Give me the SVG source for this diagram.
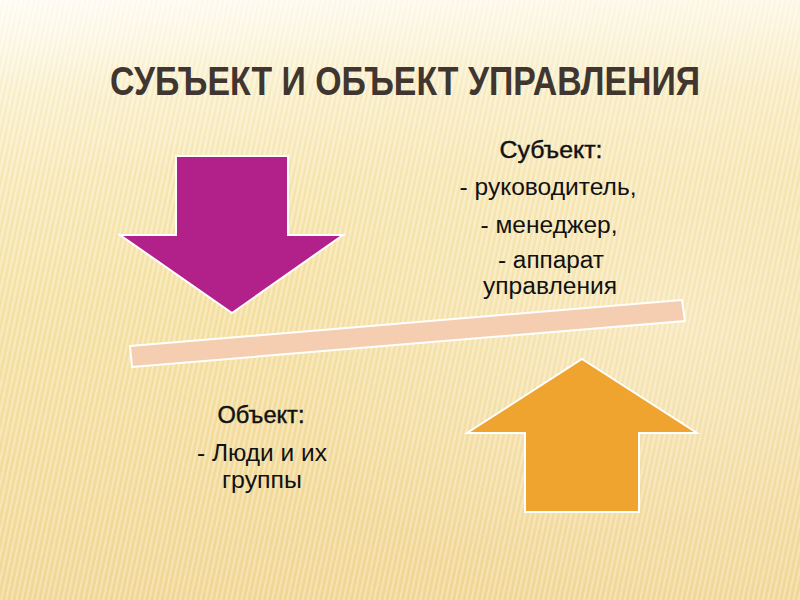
<svg xmlns="http://www.w3.org/2000/svg" width="800" height="600" viewBox="0 0 800 600">
  <defs>
    <linearGradient id="bg" x1="0" y1="0" x2="0.2" y2="1">
      <stop offset="0" stop-color="#FDF8E6"/>
      <stop offset="0.15" stop-color="#FAEFC8"/>
      <stop offset="0.5" stop-color="#F6E3A8"/>
      <stop offset="1" stop-color="#F2D898"/>
    </linearGradient>
    <radialGradient id="glow" cx="0.85" cy="0.55" r="0.5">
      <stop offset="0" stop-color="#FFFFFF" stop-opacity="0.3"/>
      <stop offset="1" stop-color="#FFFFFF" stop-opacity="0"/>
    </radialGradient>
    <linearGradient id="topfade" x1="0" y1="0" x2="0" y2="1">
      <stop offset="0" stop-color="#FFFFFF" stop-opacity="0.6"/>
      <stop offset="0.15" stop-color="#FFFFFF" stop-opacity="0.15"/>
      <stop offset="0.3" stop-color="#FFFFFF" stop-opacity="0"/>
    </linearGradient>
    <pattern id="stripes" width="5" height="600" patternUnits="userSpaceOnUse" patternTransform="rotate(12)">
      <rect x="0" y="0" width="1.5" height="600" fill="#FFFFFF" opacity="0.35"/>
      <rect x="3" y="0" width="1" height="600" fill="#E8C878" opacity="0.2"/>
    </pattern>
    <linearGradient id="rule" x1="0" y1="0" x2="1" y2="0">
      <stop offset="0" stop-color="#F0A640" stop-opacity="0"/>
      <stop offset="0.2" stop-color="#F0A640" stop-opacity="0.9"/>
      <stop offset="1" stop-color="#F0A640" stop-opacity="1"/>
    </linearGradient>
    <style>
      .title { font-family: "Liberation Sans", Arial, sans-serif; font-weight: bold; font-size: 40px; fill: #40362F; }
      .lbl { font-family: "Liberation Sans", Arial, sans-serif; font-size: 23px; fill: #111111; text-anchor: middle; }
      .hdr { stroke: #111111; stroke-width: 0.4; }
      .arrow { stroke: #FFFFFF; stroke-width: 2; stroke-linejoin: miter; }
    </style>
  </defs>

  <!-- background -->
  <rect x="0" y="0" width="800" height="600" fill="url(#bg)"/>
  <rect x="0" y="0" width="800" height="600" fill="url(#stripes)"/>
  <rect x="0" y="0" width="800" height="600" fill="url(#glow)"/>
  <rect x="0" y="0" width="800" height="600" fill="url(#topfade)"/>

  <!-- title -->
  <g id="title">
    <line x1="40" y1="94" x2="800" y2="94" stroke="url(#rule)" stroke-width="1.5"/>
    <g transform="translate(110,95) scale(0.815,1)">
      <text class="title" x="0" y="0" textLength="724" lengthAdjust="spacingAndGlyphs">СУБЪЕКТ И ОБЪЕКТ УПРАВЛЕНИЯ</text>
    </g>
  </g>

  <!-- lever bar -->
  <g id="bar">
    <polygon points="130,346 682,300 685,321 132,367" fill="#F5CDB0" stroke="#FFFFFF" stroke-width="2"/>
  </g>

  <!-- subject arrow (down) -->
  <g id="subject-arrow">
    <polygon class="arrow" points="176,156 288,156 288,235 343,235 232,313 120,235 176,235" fill="#B2208A"/>
  </g>

  <!-- object arrow (up) -->
  <g id="object-arrow">
    <polygon class="arrow" points="582,359 697,433 639,433 639,512 525,512 525,433 467,433" fill="#F0A430"/>
  </g>

  <!-- subject text -->
  <g id="subject-text">
    <text class="lbl hdr" x="551" y="158" textLength="103" lengthAdjust="spacingAndGlyphs">Субъект:</text>
    <text class="lbl" x="548" y="195" textLength="177" lengthAdjust="spacingAndGlyphs">- руководитель,</text>
    <text class="lbl" x="549" y="233" textLength="137" lengthAdjust="spacingAndGlyphs">- менеджер,</text>
    <text class="lbl" x="551" y="268" textLength="106" lengthAdjust="spacingAndGlyphs">- аппарат</text>
    <text class="lbl" x="550" y="294" textLength="134" lengthAdjust="spacingAndGlyphs">управления</text>
  </g>

  <!-- object text -->
  <g id="object-text">
    <text class="lbl hdr" x="261" y="423" textLength="87" lengthAdjust="spacingAndGlyphs">Объект:</text>
    <text class="lbl" x="262" y="461" textLength="130" lengthAdjust="spacingAndGlyphs">- Люди и их</text>
    <text class="lbl" x="262" y="488" textLength="80" lengthAdjust="spacingAndGlyphs">группы</text>
  </g>
</svg>
